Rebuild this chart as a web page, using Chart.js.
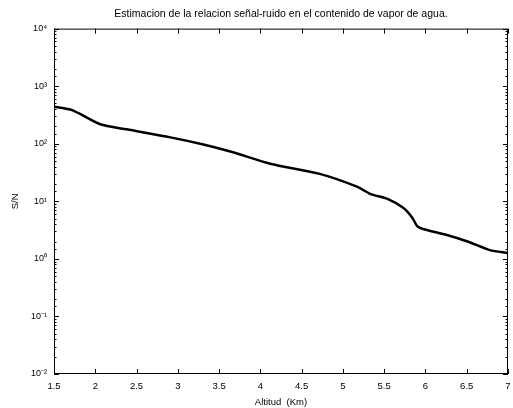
<!DOCTYPE html>
<html>
<head>
<meta charset="utf-8">
<script src="https://cdn.jsdelivr.net/npm/chart.js@4"></script>
<style>
  html, body { margin: 0; padding: 0; background: #fff; }
  #wrap { width: 513px; height: 408px; }
</style>
</head>
<body>
<div id="wrap"><canvas id="myChart" width="513" height="408"></canvas></div>
<script>
// altitud (Km) y relacion señal-ruido
const altitud = [1.5, 1.72, 2.06, 2.38, 2.91, 3.31, 3.67, 4.12, 4.72, 5.17, 5.33, 5.54, 5.73, 5.84, 5.90, 5.97, 6.26, 6.51, 6.78, 7.0];
const snr = [440, 383, 218, 178, 129, 97, 71, 45, 30, 18, 13.5, 11, 7.7, 5.2, 3.7, 3.3, 2.6, 2.0, 1.42, 1.26];
const xTicks = [1.5, 2, 2.5, 3, 3.5, 4, 4.5, 5, 5.5, 6, 6.5, 7];
const yExp = [-2, -1, 0, 1, 2, 3, 4];

const sup = {'-': '\u207B', '0': '\u2070', '1': '\u00B9', '2': '\u00B2', '3': '\u00B3', '4': '\u2074'};
function powLabel(n) {
  return '10' + String(n).split('').map(c => sup[c]).join('');
}

const FONT = "'Liberation Sans', Arial, sans-serif";

// ticks hacia dentro y caja cerrada, estilo matlab
const boxTicks = {
  id: 'boxTicks',
  afterDraw(chart) {
    const { ctx, chartArea: a, scales } = chart;
    ctx.save();
    ctx.strokeStyle = '#000';
    ctx.lineWidth = 1;
    ctx.strokeRect(a.left + 0.5, a.top + 0.5, a.right - a.left - 1, a.bottom - a.top - 1);
    ctx.beginPath();
    xTicks.forEach(v => {
      const px = Math.round(scales.x.getPixelForValue(v)) + 0.5;
      ctx.moveTo(px, a.bottom); ctx.lineTo(px, a.bottom - 5);
      ctx.moveTo(px, a.top); ctx.lineTo(px, a.top + 5);
    });
    scales.y.ticks.forEach(t => {
      const major = yExp.some(e => Math.abs(Math.log10(t.value) - e) < 1e-9);
      const len = major ? 5 : 2.5;
      const py = Math.round(scales.y.getPixelForValue(t.value)) + 0.5;
      ctx.moveTo(a.left, py); ctx.lineTo(a.left + len, py);
      ctx.moveTo(a.right, py); ctx.lineTo(a.right - len, py);
    });
    ctx.stroke();
    ctx.restore();
  }
};

const ctx = document.getElementById('myChart').getContext('2d');

new Chart(ctx, {
  type: 'line',
  data: {
    datasets: [{
      label: 'S/N',
      data: altitud.map((x, i) => ({ x: x, y: snr[i] })),
      borderColor: '#000',
      borderWidth: 2.5,
      pointRadius: 0,
      tension: 0.25,
      fill: false
    }]
  },
  options: {
    responsive: false,
    animation: false,
    layout: { padding: { top: 0, right: 5, left: 10, bottom: 0 } },
    plugins: {
      legend: { display: false },
      tooltip: { enabled: false },
      title: {
        display: true,
        fullSize: false,
        text: 'Estimacion de la relacion señal-ruido en el contenido de vapor de agua.',
        color: '#000',
        font: { family: FONT, size: 10.5, weight: 'normal' },
        padding: { top: 8, bottom: 8 }
      }
    },
    scales: {
      x: {
        type: 'linear',
        min: 1.5,
        max: 7,
        afterBuildTicks: s => { s.ticks = xTicks.map(v => ({ value: v })); },
        afterFit: s => { s.height = 34; s.paddingLeft = 0; s.paddingRight = 0; },
        grid: { display: false, drawTicks: false },
        border: { display: false },
        ticks: {
          color: '#000',
          padding: 7,
          maxRotation: 0,
          font: { family: FONT, size: 9.5 },
          callback: v => String(v)
        },
        title: {
          display: true,
          text: 'Altitud  (Km)',
          color: '#000',
          font: { family: FONT, size: 9.5 },
          padding: { top: 3, bottom: 0 }
        }
      },
      y: {
        type: 'logarithmic',
        min: 0.01,
        max: 10000,
        afterFit: s => { s.width = 44; },
        grid: { display: false, drawTicks: false },
        border: { display: false },
        ticks: {
          autoSkip: false,
          color: '#000',
          padding: 7,
          font: { family: FONT, size: 9 },
          callback: v => {
            const e = Math.log10(v);
            return Math.abs(e - Math.round(e)) < 1e-9 ? powLabel(Math.round(e)) : '';
          }
        },
        title: {
          display: true,
          text: 'S/N',
          color: '#000',
          font: { family: FONT, size: 9.5 },
          padding: { top: 0, bottom: 6 }
        }
      }
    }
  },
  plugins: [boxTicks]
});
</script>
</body>
</html>
